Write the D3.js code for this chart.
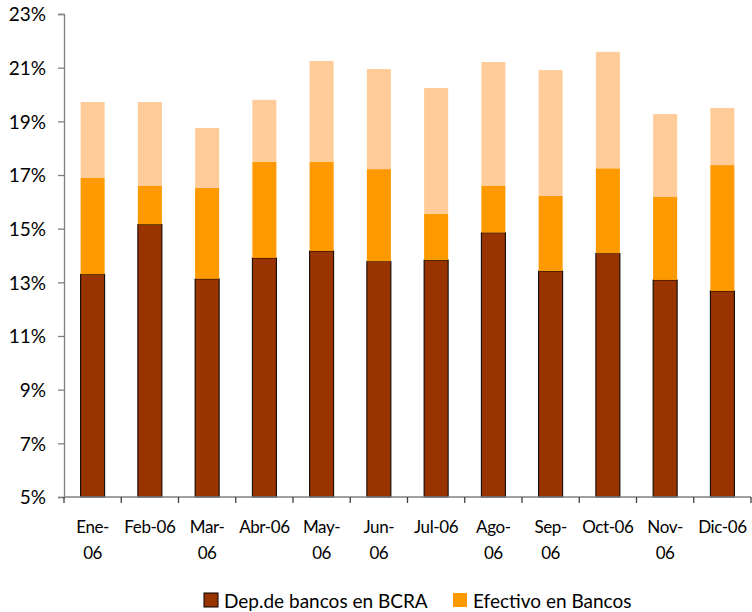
<!DOCTYPE html>
<html>
<head>
<meta charset="utf-8">
<script src="https://cdn.jsdelivr.net/npm/d3@7"></script>
<style>
  html, body { margin: 0; padding: 0; background: #fff; }
  svg text { font-family: "Lato", "Liberation Sans", sans-serif; fill: #000; }
</style>
</head>
<body>
<svg id="chart" width="752" height="612"></svg>
<script>
// Month labels ("\n" marks where a label breaks onto a second line)
const months = ["Ene-\n06", "Feb-06", "Mar-\n06", "Abr-06", "May-\n06", "Jun-\n06",
                "Jul-06", "Ago-\n06", "Sep-\n06", "Oct-06", "Nov-\n06", "Dic-06"];

// Stacked segments, in percentage points
const depBCRA   = [13.30, 15.16, 13.13, 13.91, 14.17, 13.78, 13.83, 14.85, 13.42, 14.08, 13.09, 12.68];
const efectivo  = [3.59, 1.43, 3.39, 3.58, 3.32, 3.44, 1.72, 1.74, 2.80, 3.17, 3.09, 4.69];
const otros     = [2.83, 3.13, 2.23, 2.31, 3.76, 3.73, 4.69, 4.62, 4.69, 4.34, 3.09, 2.13];

const seriesNames = ["Dep.de bancos en BCRA", "Efectivo en Bancos", "Otros"];
const seriesColors = ["#993300", "#FF9900", "#FFCC99"];
const yTicks = [5, 7, 9, 11, 13, 15, 17, 19, 21, 23];

const svg = d3.select("#chart");
const margin = { left: 64, right: 1, top: 14, bottom: 115 };
const W = 752, H = 612;

const x = d3.scaleBand()
  .domain(months)
  .range([margin.left, W - margin.right])
  .paddingInner(0.58)
  .paddingOuter(0.29);

const y = d3.scaleLinear()
  .domain([5, 23])
  .range([H - margin.bottom, margin.top]);

const rows = months.map((m, i) => ({ m, dep: depBCRA[i], ef: efectivo[i], ot: otros[i] }));
const stack = d3.stack().keys(["dep", "ef", "ot"]);
const layers = stack(rows);

// Bars: bottom segment starts at the axis floor (5%)
layers.forEach((layer, li) => {
  svg.append("g").selectAll("rect")
    .data(layer)
    .join("rect")
    .attr("x", d => x(d.data.m))
    .attr("width", x.bandwidth())
    .attr("y", d => y(d[1]))
    .attr("height", d => y(Math.max(d[0], 5)) - y(d[1]))
    .attr("fill", seriesColors[li])
    .attr("stroke", li === 0 ? "#000" : "none")
    .attr("stroke-width", li === 0 ? 1 : 0);
});

// Y axis
const yAxis = svg.append("g")
  .attr("transform", `translate(${margin.left},0)`)
  .call(d3.axisLeft(y).tickValues(yTicks).tickFormat(d => d + "%").tickSize(6).tickPadding(12));
yAxis.select(".domain").attr("stroke", "#808080").attr("stroke-width", 1.3);
yAxis.selectAll(".tick line").attr("stroke", "#808080").attr("stroke-width", 1.3);
yAxis.selectAll("text").attr("font-size", 19).attr("dy", "0.36em");

// X axis: ticks at band boundaries
const x0 = margin.left;
const boundaries = d3.range(months.length + 1).map(i => x0 + i * (W - margin.right - x0) / months.length);
const xg = svg.append("g").attr("transform", `translate(0,${y(5)})`);
xg.append("line")
  .attr("x1", boundaries[0]).attr("x2", boundaries[boundaries.length - 1])
  .attr("stroke", "#808080").attr("stroke-width", 1.3);
xg.selectAll(".tk").data(boundaries).join("line")
  .attr("class", "tk")
  .attr("x1", d => d).attr("x2", d => d)
  .attr("y1", 0).attr("y2", 6)
  .attr("stroke", "#404040").attr("stroke-width", 1.3);

xg.selectAll(".lbl").data(months).join("text")
  .attr("class", "lbl")
  .attr("text-anchor", "middle")
  .attr("font-size", 17)
  .attr("letter-spacing", -0.4)
  .each(function (d) {
    const t = d3.select(this);
    d.split("\n").forEach((line, i) => {
      t.append("tspan")
        .attr("x", x(d) + x.bandwidth() / 2)
        .attr("y", 36 + i * 26)
        .text(line);
    });
  });

// Legend (first two series)
const legendItems = [
  { name: seriesNames[0], color: seriesColors[0], x: 204 },
  { name: seriesNames[1], color: seriesColors[1], x: 453 }
];
const lg = svg.append("g");
legendItems.forEach(it => {
  lg.append("rect")
    .attr("x", it.x).attr("y", 593).attr("width", 14).attr("height", 14)
    .attr("fill", it.color)
    .attr("stroke", it === legendItems[0] ? "#000" : "none");
  lg.append("text")
    .attr("x", it.x + 20).attr("y", 608)
    .attr("font-size", 19)
    .text(it.name);
});
</script>
</body>
</html>
